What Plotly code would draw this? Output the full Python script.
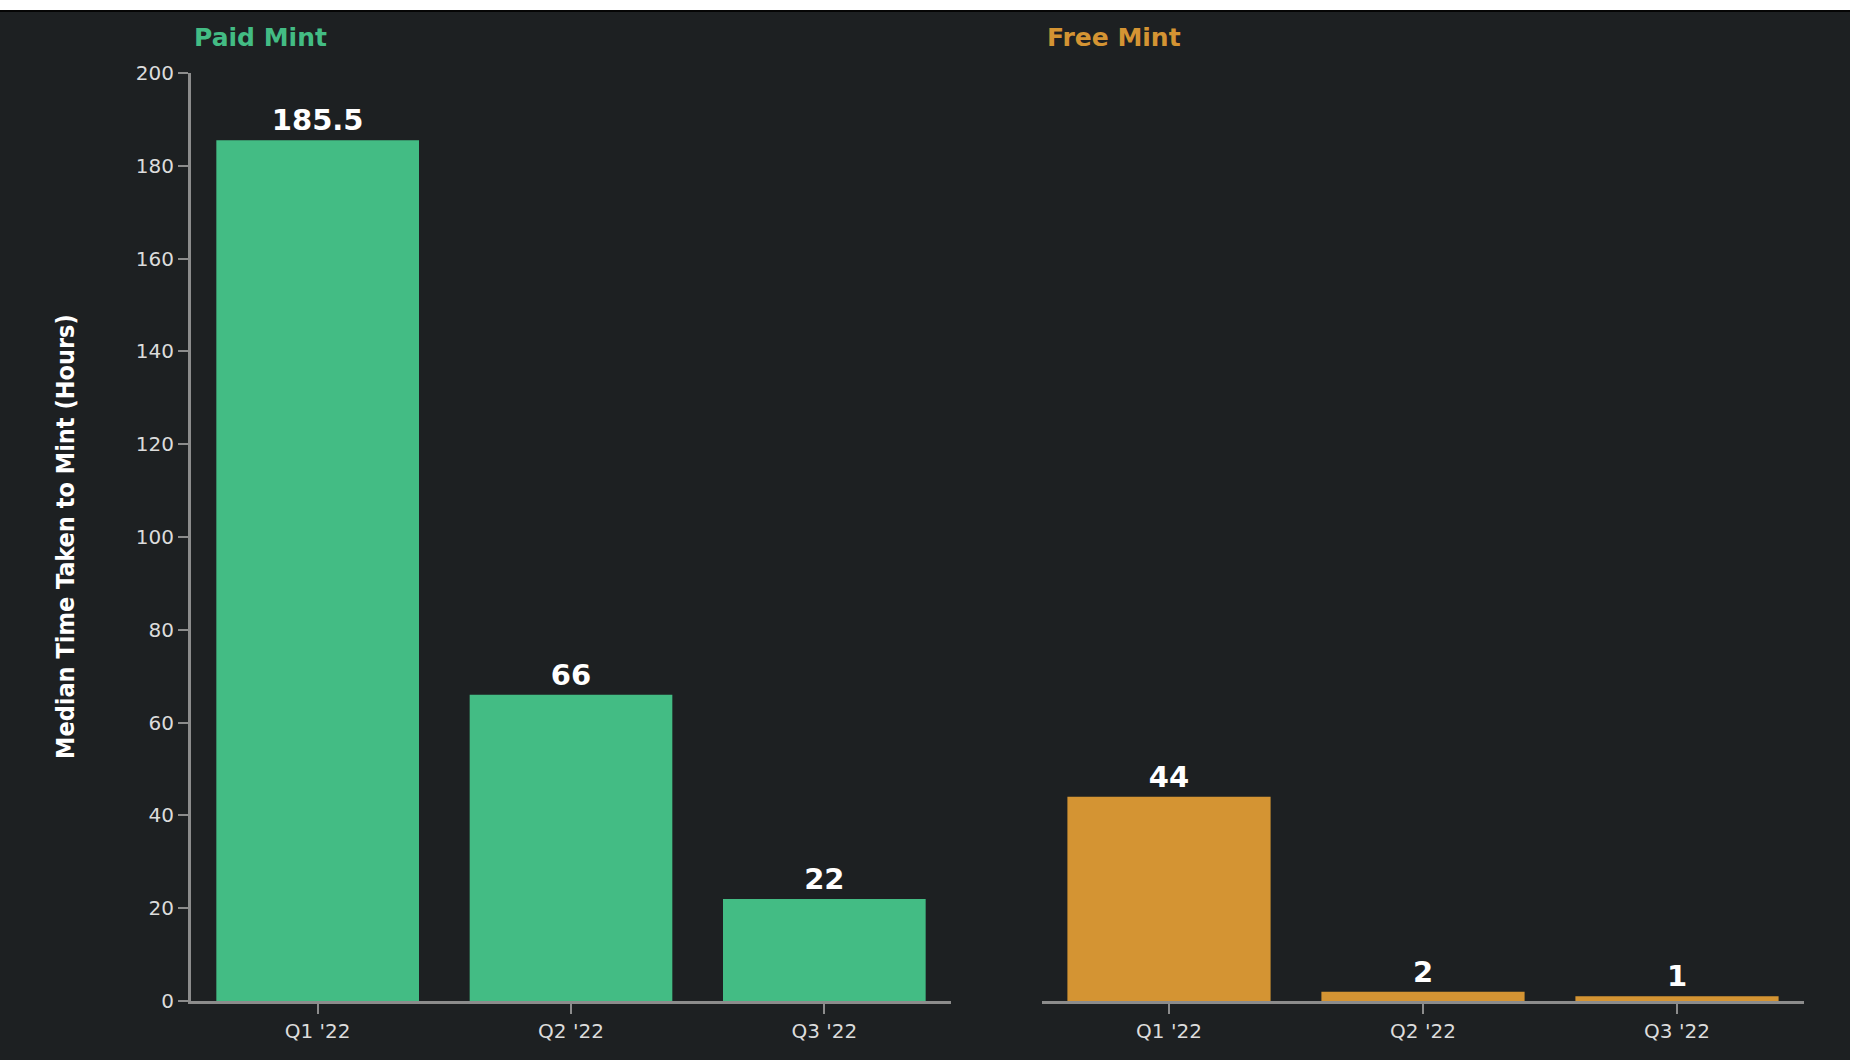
import plotly.graph_objects as go
from plotly.subplots import make_subplots

quarters = ["Q1 '22", "Q2 '22", "Q3 '22"]
paid_values = [185.5, 66, 22]
free_values = [44, 2, 1]
paid_labels = ["185.5", "66", "22"]
free_labels = ["44", "2", "1"]
y_ticks = [0, 20, 40, 60, 80, 100, 120, 140, 160, 180, 200]

BG = "#1d2022"
GREEN = "#43bc84"
ORANGE = "#d49433"
AXIS = "#8c8c8c"
TICKTXT = "#dcdcdc"
FONT = "DejaVu Sans"

W, H = 1850, 1060
top, bottom = 73, 1001

fig = make_subplots(rows=1, cols=2, shared_yaxes=True)

label_font = dict(color="white", size=29, family=FONT, weight="bold")
fig.add_trace(go.Bar(x=quarters, y=paid_values, text=paid_labels, marker_color=GREEN,
                     marker_line_width=0, textposition="outside", cliponaxis=False,
                     textfont=label_font, width=0.8, showlegend=False), row=1, col=1)
fig.add_trace(go.Bar(x=quarters, y=free_values, text=free_labels, marker_color=ORANGE,
                     marker_line_width=0, textposition="outside", cliponaxis=False,
                     textfont=label_font, width=0.8, showlegend=False), row=1, col=2)

axcommon = dict(showline=True, linecolor=AXIS, linewidth=3, ticks="outside",
                ticklen=10, tickwidth=2, tickcolor=AXIS, showgrid=False, zeroline=False,
                tickfont=dict(color=TICKTXT, size=20, family=FONT), range=[-0.5, 2.5])

fig.update_layout(
    width=W, height=H,
    paper_bgcolor=BG, plot_bgcolor=BG,
    margin=dict(l=0, r=0, t=top, b=H - bottom),
    xaxis=dict(domain=[191 / W, 951 / W], **axcommon),
    xaxis2=dict(domain=[1042 / W, 1804 / W], **axcommon),
    yaxis=dict(range=[0, 200], tickvals=y_ticks, showline=True, linecolor=AXIS, linewidth=3,
               ticks="outside", ticklen=10, tickwidth=2, tickcolor=AXIS, showgrid=False,
               zeroline=False, tickfont=dict(color=TICKTXT, size=20, family=FONT)),
    yaxis2=dict(range=[0, 200], showline=False, showticklabels=False, ticks="",
                showgrid=False, zeroline=False),
    bargap=0.2,
)

ph = bottom - top
fig.add_shape(type="rect", xref="paper", yref="paper", x0=-0.1, x1=1.1,
              y0=1 + (top - 10) / ph, y1=1 + (top + 10) / ph, fillcolor="white",
              line_width=0, layer="above")
fig.add_shape(type="line", xref="paper", yref="paper", x0=-0.1, x1=1.1,
              y0=1 + (top - 11) / ph, y1=1 + (top - 11) / ph,
              line=dict(color="#050505", width=2))

fig.add_annotation(text="Median Time Taken to Mint (Hours)", xref="paper", yref="paper",
                   x=65 / W, y=0.5, textangle=-90, xanchor="center", yanchor="middle",
                   showarrow=False,
                   font=dict(color="white", size=25, family="DejaVu Sans Condensed, DejaVu Sans",
                             weight="bold"))
fig.add_annotation(text="Paid Mint", xref="paper", yref="paper",
                   x=192 / W, y=1 + (top - 37) / ph, xanchor="left", yanchor="middle",
                   showarrow=False, font=dict(color=GREEN, size=25, family=FONT, weight="bold"))
fig.add_annotation(text="Free Mint", xref="paper", yref="paper",
                   x=1045 / W, y=1 + (top - 37) / ph, xanchor="left", yanchor="middle",
                   showarrow=False, font=dict(color=ORANGE, size=25, family=FONT, weight="bold"))

fig.write_html("out.html", config={"displayModeBar": False},
               post_script="document.body.style.margin='0';")
